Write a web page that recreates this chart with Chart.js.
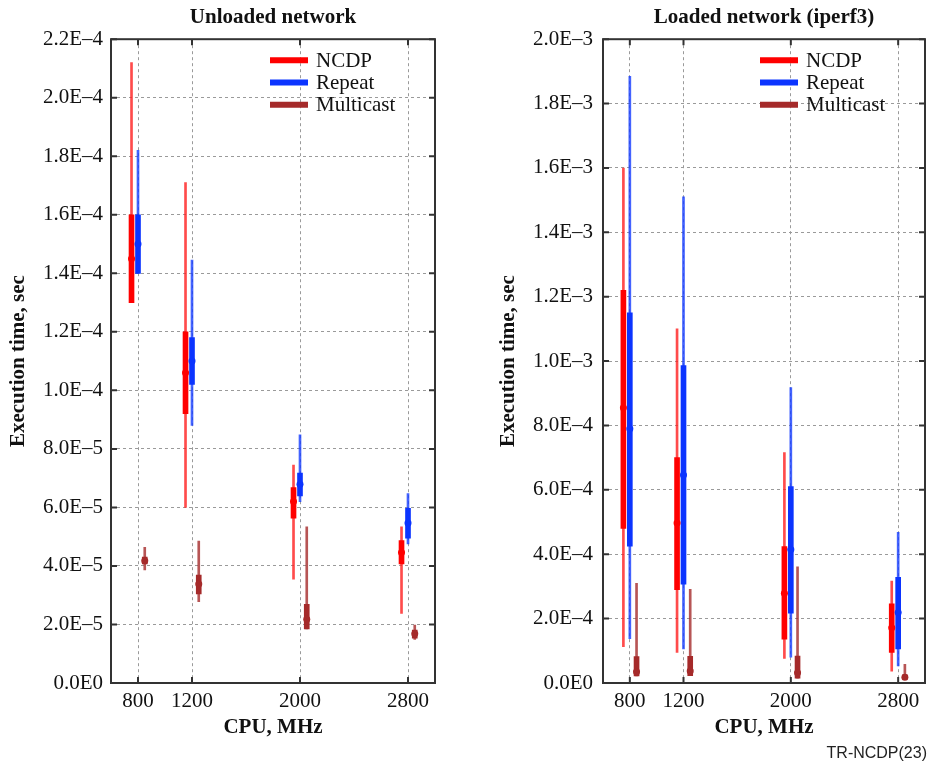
<!DOCTYPE html>
<html>
<head>
<meta charset="utf-8">
<script src="https://cdn.jsdelivr.net/npm/chart.js@4.4.0/dist/chart.umd.min.js"></script>
<style>
body{margin:0;background:#fff;}
#wrap{position:relative;width:929px;height:764px;}
#left{position:absolute;left:0;top:0;}
#right{position:absolute;left:465px;top:0;}
#foot{position:absolute;right:2px;top:745px;font:16px "Liberation Sans",Arial,sans-serif;line-height:16px;color:#222;}
</style>
</head>
<body>
<div id="wrap">
<canvas id="left" width="465" height="764"></canvas>
<canvas id="right" width="464" height="764"></canvas>
<div id="foot">TR-NCDP(23)</div>
</div>
<script>
const cpu = [800, 1200, 2000, 2800];
const seriesNames = ['NCDP', 'Repeat', 'Multicast'];
const yTicksUnloaded = [0, 2e-5, 4e-5, 6e-5, 8e-5, 1e-4, 1.2e-4, 1.4e-4, 1.6e-4, 1.8e-4, 2e-4, 2.2e-4];
const yTicksLoaded = [0, 2e-4, 4e-4, 6e-4, 8e-4, 1e-3, 1.2e-3, 1.4e-3, 1.6e-3, 1.8e-3, 2e-3];

// [min, q1, median, q3, max] for each cpu
const ncdpUnloaded = [
  [1.30e-4, 1.30e-4, 1.45e-4, 1.60e-4, 2.12e-4],
  [6.0e-5, 9.2e-5, 1.06e-4, 1.20e-4, 1.71e-4],
  [3.55e-5, 5.63e-5, 6.2e-5, 6.68e-5, 7.45e-5],
  [2.38e-5, 4.07e-5, 4.46e-5, 4.87e-5, 5.34e-5]
];
const repeatUnloaded = [
  [1.40e-4, 1.40e-4, 1.50e-4, 1.60e-4, 1.82e-4],
  [8.8e-5, 1.02e-4, 1.10e-4, 1.18e-4, 1.445e-4],
  [6.2e-5, 6.39e-5, 6.79e-5, 7.17e-5, 8.48e-5],
  [4.75e-5, 4.95e-5, 5.47e-5, 5.97e-5, 6.47e-5]
];
const multicastUnloaded = [
  [3.86e-5, 4.07e-5, 4.18e-5, 4.30e-5, 4.64e-5],
  [2.78e-5, 3.04e-5, 3.38e-5, 3.69e-5, 4.85e-5],
  [1.85e-5, 1.85e-5, 2.18e-5, 2.69e-5, 5.34e-5],
  [1.49e-5, 1.53e-5, 1.68e-5, 1.81e-5, 1.98e-5]
];
const ncdpLoaded = [
  [1.13e-4, 4.8e-4, 8.55e-4, 1.22e-3, 1.60e-3],
  [9.5e-5, 2.9e-4, 4.97e-4, 7.0e-4, 1.10e-3],
  [7.6e-5, 1.36e-4, 2.79e-4, 4.24e-4, 7.16e-4],
  [3.7e-5, 9.5e-5, 1.72e-4, 2.46e-4, 3.17e-4]
];
const repeatLoaded = [
  [1.38e-4, 4.25e-4, 7.9e-4, 1.15e-3, 1.885e-3],
  [1.06e-4, 3.07e-4, 6.46e-4, 9.86e-4, 1.51e-3],
  [8.0e-5, 2.17e-4, 4.15e-4, 6.1e-4, 9.18e-4],
  [5.3e-5, 1.06e-4, 2.19e-4, 3.28e-4, 4.68e-4]
];
const multicastLoaded = [
  [2.2e-5, 2.2e-5, 3.5e-5, 8.2e-5, 3.1e-4],
  [2.3e-5, 2.3e-5, 3.7e-5, 8.3e-5, 2.91e-4],
  [1.5e-5, 1.5e-5, 3.2e-5, 8.4e-5, 3.61e-4],
  [1.0e-5, 1.2e-5, 1.8e-5, 2.5e-5, 5.8e-5]
];

const serif = '"Liberation Serif", "Times New Roman", serif';
const colors = {NCDP: '#ff0000', Repeat: '#0b34ff', Multicast: '#a52a2a'};
const whiskerColors = {NCDP: 'rgba(255,30,30,0.8)', Repeat: 'rgba(20,60,255,0.8)', Multicast: 'rgba(165,42,42,0.8)'};
const shift = {NCDP: -48, Repeat: 0, Multicast: 50};

function makeDatasets(series) {
  const out = [];
  series.forEach((stats, k) => {
    const name = seriesNames[k];
    const xs = cpu.map(c => c + shift[name]);
    out.push({
      type: 'bar', grouped: false, order: 3, barThickness: 2,
      backgroundColor: whiskerColors[name],
      data: stats.map((s, i) => ({x: xs[i], y: [s[0], s[4]]}))
    });
    out.push({
      type: 'bar', grouped: false, order: 2, barThickness: 5,
      backgroundColor: colors[name],
      data: stats.map((s, i) => ({x: xs[i], y: [s[1], s[3]]}))
    });
    out.push({
      type: 'scatter', order: 1, pointRadius: 3.5, pointStyle: 'circle',
      backgroundColor: colors[name], borderWidth: 0,
      data: stats.map((s, i) => ({x: xs[i], y: s[2]}))
    });
  });
  return out;
}

const framePlugin = {
  id: 'frame',
  afterDatasetsDraw(chart) {
    const {ctx, chartArea: a, scales: {x, y}} = chart;
    ctx.save();
    ctx.strokeStyle = '#333';
    ctx.lineWidth = 2;
    ctx.beginPath();
    y.ticks.forEach(t => {
      const p = y.getPixelForValue(t.value);
      ctx.moveTo(a.left, p); ctx.lineTo(a.left + 6, p);
      ctx.moveTo(a.right, p); ctx.lineTo(a.right - 6, p);
    });
    x.ticks.forEach(t => {
      const p = x.getPixelForValue(t.value);
      ctx.moveTo(p, a.bottom); ctx.lineTo(p, a.bottom - 6);
      ctx.moveTo(p, a.top); ctx.lineTo(p, a.top + 6);
    });
    ctx.stroke();
    ctx.strokeRect(a.left, a.top, a.right - a.left, a.bottom - a.top);

    // legend
    const x0 = a.right - 165;
    ctx.font = '21px ' + serif;
    ctx.textBaseline = 'middle';
    ctx.lineWidth = 6;
    seriesNames.forEach((n, i) => {
      const yy = a.top + 21 + i * 22.3;
      ctx.strokeStyle = colors[n];
      ctx.beginPath();
      ctx.moveTo(x0, yy); ctx.lineTo(x0 + 38, yy);
      ctx.stroke();
      ctx.fillStyle = '#111';
      ctx.fillText(n, x0 + 46, yy + 1);
    });
    ctx.restore();
  }
};

function fmt(v) {
  if (v === 0) return '0.0E0';
  return v.toExponential(1).replace('e-', 'E\u2013').replace('e+', 'E');
}

function makeChart(id, title, series, yTicks, padLeft, padRight, yWidth, tickPad) {
  return new Chart(document.getElementById(id), {
    type: 'bar',
    data: {datasets: makeDatasets(series)},
    plugins: [framePlugin],
    options: {
      responsive: false,
      animation: false,
      layout: {padding: {left: padLeft, right: padRight, top: 0, bottom: 0}},
      plugins: {
        legend: {display: false},
        tooltip: {enabled: false},
        title: {
          display: true, fullSize: false, text: title, color: '#111',
          font: {family: serif, size: 21, weight: 'bold'}, padding: {top: 5, bottom: 9}
        }
      },
      scales: {
        x: {
          type: 'linear', min: 600, max: 3000, offset: false,
          afterBuildTicks: s => { s.ticks = cpu.map(v => ({value: v})); },
          afterFit: s => { s.height = 81; },
          grid: {color: '#9a9a9a', drawTicks: false, offset: false},
          border: {display: false, dash: [3, 3]},
          ticks: {color: '#111', font: {family: serif, size: 21}, padding: 6, callback: v => String(v)},
          title: {display: true, text: 'CPU, MHz', color: '#111', font: {family: serif, size: 21, weight: 'bold'}, padding: {top: 0, bottom: 24}}
        },
        y: {
          min: 0, max: yTicks[yTicks.length - 1],
          afterBuildTicks: s => { s.ticks = yTicks.map(v => ({value: v})); },
          afterFit: s => { s.width = yWidth; },
          grid: {color: '#9a9a9a', drawTicks: false},
          border: {display: false, dash: [3, 3]},
          ticks: {color: '#111', font: {family: serif, size: 21}, padding: tickPad, callback: fmt},
          title: {display: true, text: 'Execution time, sec', color: '#111', font: {family: serif, size: 21, weight: 'bold'}, padding: {top: 6, bottom: 0}}
        }
      }
    }
  });
}

makeChart('left', 'Unloaded network', [ncdpUnloaded, repeatUnloaded, multicastUnloaded], yTicksUnloaded, 0, 30, 111, 8);
makeChart('right', 'Loaded network (iperf3)', [ncdpLoaded, repeatLoaded, multicastLoaded], yTicksLoaded, 25, 1, 113, 10);
</script>
</body>
</html>
